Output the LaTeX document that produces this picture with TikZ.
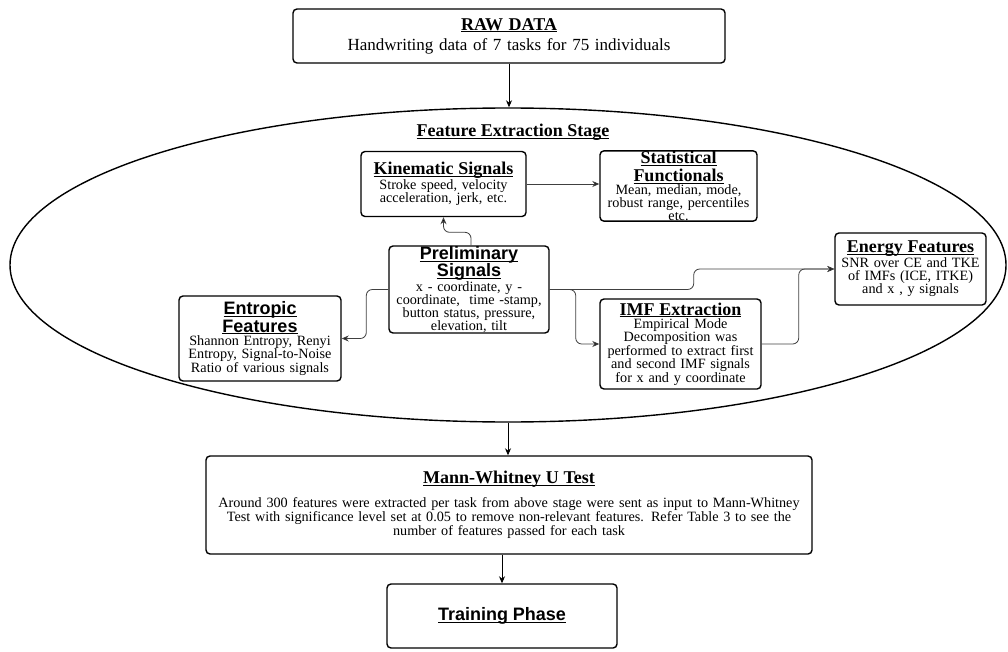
\documentclass[tikz,border=0pt]{standalone}
\usepackage{fontspec}
\setmainfont{Liberation Serif}
\setsansfont{Liberation Sans}
\usetikzlibrary{shapes.geometric,arrows.meta}

\newcommand{\titleline}[1]{\leavevmode\setbox0=\hbox{#1}\rlap{\rule[-2.2pt]{\wd0}{0.9pt}}\box0}
\newcommand{\sertitle}[1]{{\fontsize{18}{16}\selectfont\bfseries\titleline{#1}}}
\newcommand{\santitle}[1]{{\fontsize{18}{16}\selectfont\sffamily\bfseries\titleline{#1}}}

\begin{document}
\begin{tikzpicture}[x=1pt,y=-1pt,
block/.style={draw,line width=1.4pt,rounded corners=4pt,align=center,inner sep=0pt,
    font=\fontsize{14.2}{13}\selectfont},
link/.style={draw=black!75,line width=0.8pt,rounded corners=6pt,
    -{Stealth[length=7pt,width=6pt,fill=black]}},
flow/.style={draw=black,line width=0.9pt,-{Stealth[length=7pt,width=6pt]}}]
    \useasboundingbox (0,0) rectangle (1008,652);

    % feature extraction stage
    \node [draw,ellipse,line width=1.4pt,inner sep=0pt,
        minimum width=996pt,minimum height=314pt] (stage) at (508,265) {};
    \node [font=\fontsize{18}{16}\selectfont\bfseries] (stagetitle) at (513,132)
        {\titleline{Feature Extraction Stage}};

    \node [block,minimum width=432pt,minimum height=54pt,text width=426pt,
        font=\fontsize{17}{20}\selectfont] (raw) at (509,36)
        {\sertitle{RAW DATA}\\ Handwriting data of 7 tasks for 75 individuals};
    \node [block,minimum width=165pt,minimum height=65pt,text width=159pt] (kin) at (443.5,184)
        {\sertitle{Kinematic Signals}\\ Stroke speed, velocity\\ acceleration, jerk, etc.};
    \node [block,minimum width=157pt,minimum height=70pt,text width=151pt] (stat) at (678.5,186)
        {\sertitle{Statistical}\\[3pt] \sertitle{Functionals}\\ Mean, median, mode,\\
        robust range, percentiles\\ etc.};
    \node [block,minimum width=160pt,minimum height=87pt,text width=154pt] (prelim) at (469,289.5)
        {\santitle{Preliminary}\\ \santitle{Signals}\\ x - coordinate, y -\\
        coordinate,\ \ time -stamp,\\ button status, pressure,\\ elevation, tilt};
    \node [block,minimum width=162pt,minimum height=85pt,text width=156pt] (entr) at (260,338.5)
        {\santitle{Entropic}\\ \santitle{Features}\\ Shannon Entropy, Renyi\\
        Entropy, Signal-to-Noise\\ Ratio of various signals};
    \node [block,minimum width=161pt,minimum height=90pt,text width=155pt] (imf) at (680.5,344)
        {\sertitle{IMF Extraction}\\ Empirical Mode\\ Decomposition was\\
        performed to extract first\\ and second IMF signals\\ for x and y coordinate};
    \node [block,minimum width=151pt,minimum height=72pt,text width=145pt] (energy) at (910.5,269)
        {\sertitle{Energy Features}\\ SNR over CE and TKE\\ of IMFs (ICE, ITKE)\\ and x , y signals};

    % later stages
    \node [block,minimum width=606pt,minimum height=98pt,text width=598pt] (mann) at (509,505)
        {\sertitle{Mann-Whitney U Test}\\[9pt]
        Around 300 features were extracted per task from above stage were sent as input to Mann-Whitney\\
        Test with significance level set at 0.05 to remove non-relevant features. Refer Table 3 to see the\\
        number of features passed for each task};
    \node [block,minimum width=230pt,minimum height=64pt,text width=224pt] (train) at (502,616)
        {\santitle{Training Phase}};

    \draw [flow] (raw.south) -- (raw.south |- stage.north);
    \draw [flow] (stage.south) -- (stage.south |- mann.north);
    \draw [flow] (train.north |- mann.south) -- (train.north);

    \draw [link] (kin.east) -- (kin.east -| stat.west);
    \draw [link] ([xshift=2pt]prelim.north) -- ++(0,-13) -| (kin.south);
    \draw [link] (prelim.west) -- ++(-22,0) |- (entr.east);
    \draw [link] (prelim.east) -- ++(26,0) |- (imf.west);
    \draw [link] (prelim.east) -- ++(144,0) |- (energy.west);
    \draw [link] (imf.east) -- ++(37,0) |- (energy.west);
\end{tikzpicture}
\end{document}
